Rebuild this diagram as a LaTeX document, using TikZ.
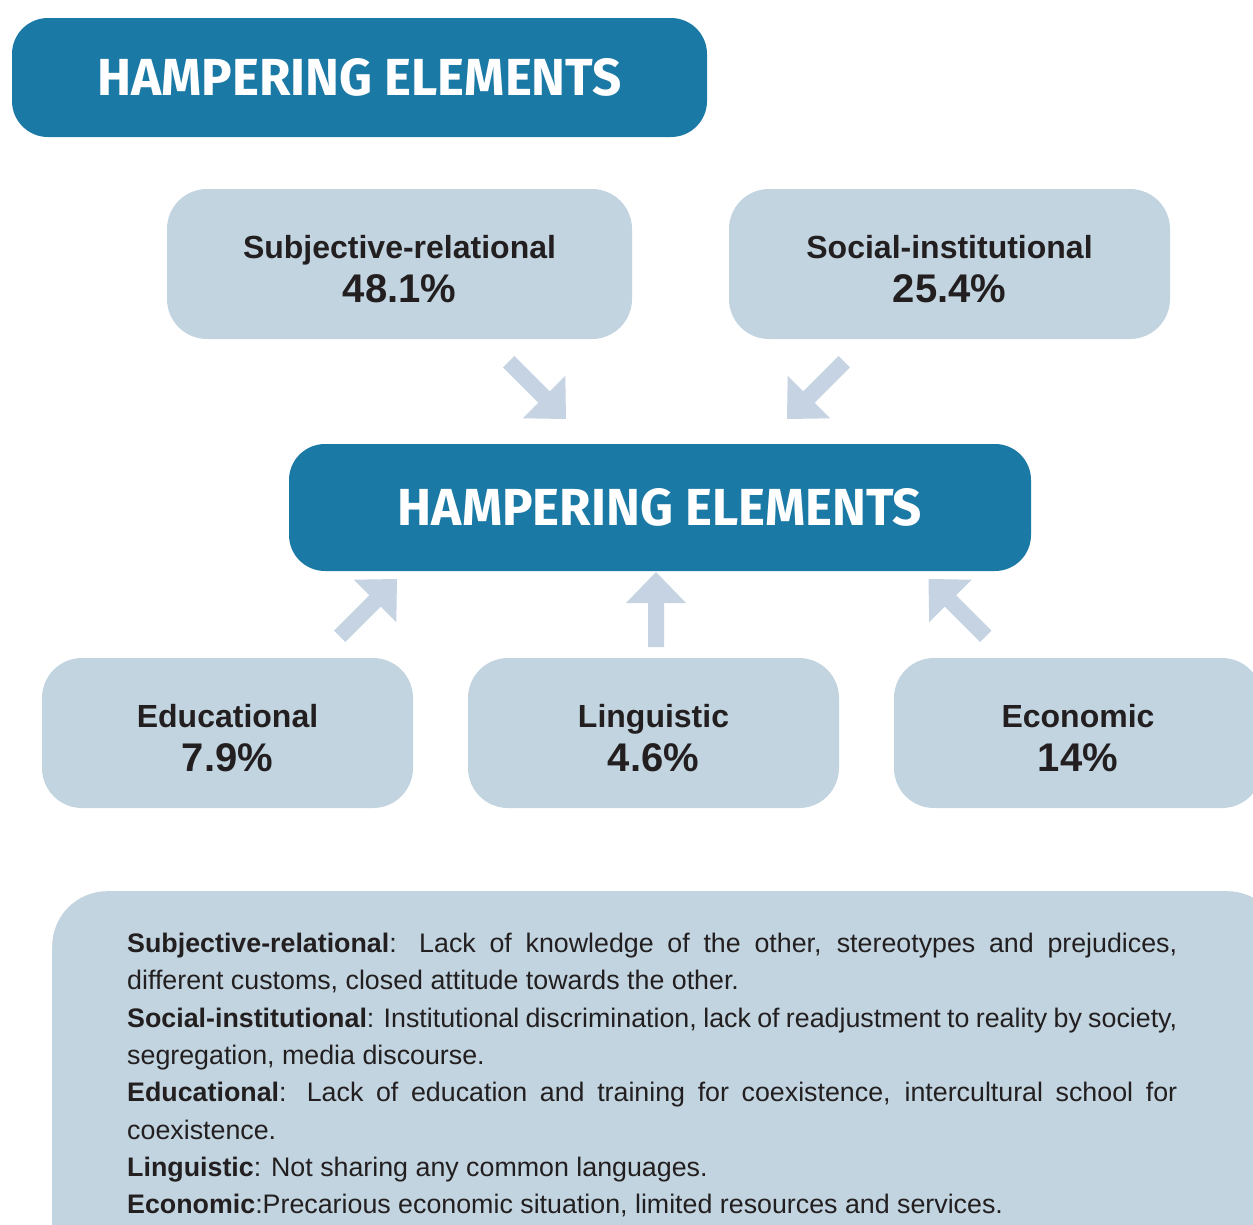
\documentclass[tikz,border=0pt]{standalone}
\usepackage{fontspec}
\setmainfont{Liberation Sans}
\newfontfamily\titlefont{Fira Sans}
\definecolor{hamperblue}{RGB}{27,121,165}
\definecolor{boxgray}{RGB}{193,212,223}
\definecolor{arrowgray}{RGB}{197,211,226}
\definecolor{textdark}{RGB}{35,31,32}
\newcommand{\hampertitle}{\resizebox{524pt}{37pt}{\titlefont\bfseries HAMPERING ELEMENTS}}
\newcommand{\catlabel}[2]{\rule{0pt}{33pt}#1\\{\fontsize{40}{44}\selectfont #2}}
\tikzset{
	titlebox/.style={fill=hamperblue, rounded corners=36pt, inner sep=0pt, text=white},
	catbox/.style={fill=boxgray, rounded corners=40pt, minimum height=150pt, inner sep=0pt, align=center, text=textdark, font=\fontsize{32}{44}\selectfont\bfseries},
	pics/blockarrow/.style={code={
		\fill[arrowgray] (0,0) -- (-31,30) -- (-31,8) -- (-#1,8) -- (-#1,-8) -- (-31,-8) -- (-31,-30) -- cycle;
	}}
}
\begin{document}
\begin{tikzpicture}[x=1pt,y=1pt]
	\useasboundingbox (0,0) rectangle (1253,-1224);
	%Title
	\node[titlebox, minimum width=695pt, minimum height=119pt] (title) at (359.5,-77.5) {\hampertitle};
	%Upper categories
	\node[catbox, minimum width=465pt] (subj) at (399.5,-264) {\catlabel{Subjective-relational}{48.1\%}};
	\node[catbox, minimum width=441pt] (soc) at (949.5,-264) {\catlabel{Social-institutional}{25.4\%}};
	%Centre
	\node[titlebox, minimum width=742pt, minimum height=127pt] (centre) at (660,-507.5) {\hampertitle};
	%Lower categories
	\node[catbox, minimum width=371pt] (edu) at (227.5,-733) {\catlabel{Educational}{7.9\%}};
	\node[catbox, minimum width=371pt] (ling) at (653.5,-733) {\catlabel{Linguistic}{4.6\%}};
	\node[catbox, minimum width=368pt] (eco) at (1078,-733) {\catlabel{Economic}{14\%}};
	
	%Arrows
	\coordinate (tsubj) at (566,-419);
	\coordinate (tsoc) at (787,-419);
	\coordinate (tedu) at (397,-579);
	\coordinate (tling) at (656,-572);
	\coordinate (teco) at (928.5,-579);
	\pic[rotate=-45] at (tsubj) {blockarrow=81};
	\pic[rotate=-135] at (tsoc) {blockarrow=81};
	\pic[rotate=45] at (tedu) {blockarrow=81};
	\pic[rotate=90] at (tling) {blockarrow=75};
	\pic[rotate=135] at (teco) {blockarrow=81};
	
	%Notes
	\node[fill=boxgray, rounded corners=55pt, minimum width=1230pt, minimum height=420pt, anchor=north west] (notes) at (52,-891) {};
	\node[anchor=north west, inner sep=0pt, text width=1050pt, align=justify, text=textdark, font=\fontsize{26.8}{37.3}\selectfont] (notetext) at (127,-933) {\hyphenpenalty=10000
		\textbf{Subjective-relational}: Lack of knowledge of the other, stereotypes and prejudices,\linebreak different customs, closed attitude towards the other.\\
		\textbf{Social-institutional}: Institutional discrimination, lack of readjustment to reality by society,\linebreak segregation, media discourse.\\
		\textbf{Educational}: Lack of education and training for coexistence, intercultural school for\linebreak coexistence.\\
		\textbf{Linguistic}: Not sharing any common languages.\\
		\textbf{Economic}:Precarious economic situation, limited resources and services.};
\end{tikzpicture}
\end{document}
